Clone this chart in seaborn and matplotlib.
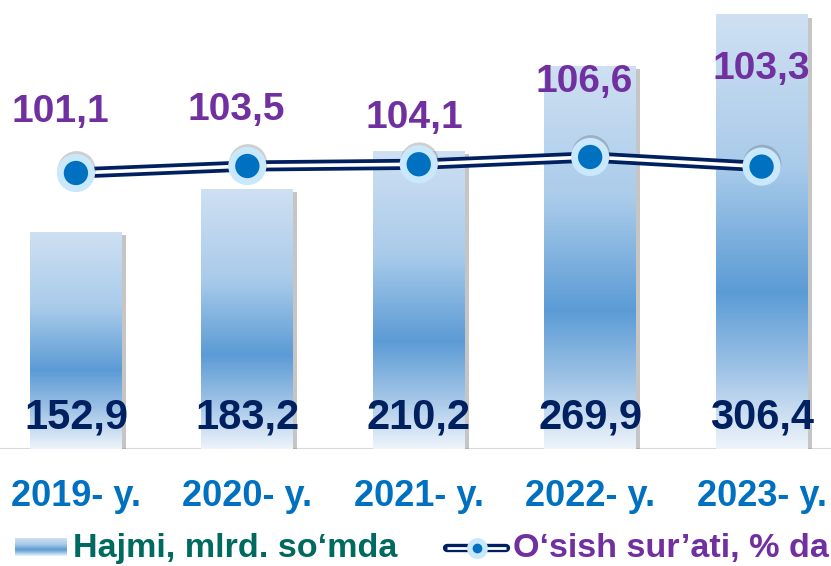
import numpy as np
import matplotlib
matplotlib.use("Agg")
import matplotlib.pyplot as plt
import seaborn as sns
from matplotlib.colors import LinearSegmentedColormap
from matplotlib.lines import Line2D
import matplotlib.patheffects as pe

# ---------------- data ----------------
years = ["2019- y.", "2020- y.", "2021- y.", "2022- y.", "2023- y."]
volume = [152.9, 183.2, 210.2, 269.9, 306.4]
growth = [101.1, 103.5, 104.1, 106.6, 103.3]
volume_name = "Hajmi, mlrd. so\u2018mda"
growth_name = "O\u2018sish sur\u2019ati, % da"

# ---------------- style ----------------
sns.set_theme(style="white")
plt.rcParams["font.family"] = ["Liberation Sans", "DejaVu Sans"]
plt.rcParams["font.weight"] = "bold"

NAVY = "#002060"
BLUE = "#0070c0"
PURPLE = "#7030a0"
TEAL = "#006a60"
LIGHT = "#c9e8fb"

bar_cmap = LinearSegmentedColormap.from_list(
    "bar", [(0.0, "#cfe0f2"), (0.35, "#a9cbea"), (0.64, "#5b9bd5"),
            (0.82, "#9fc3e6"), (1.0, "#eef4fb")])

# label offsets (points) of the growth labels relative to their markers
label_offsets = [(-11.5, 36.7), (-8, 33.1), (-3, 25.9), (-4.3, 46.8), (0, 63.4)]

fig = plt.figure(figsize=(8.31, 5.66), dpi=100, facecolor="white")
ax = fig.add_axes([0, 117 / 566, 1, 449 / 566])
ax.set_facecolor("none")

sns.barplot(x=years, y=volume, ax=ax, width=0.535, color="#5b9bd5",
            saturation=1, edgecolor="none", linewidth=0)

grad = np.linspace(0, 1, 256).reshape(-1, 1)
for p in ax.patches:
    x0, y0 = p.get_x(), p.get_y()
    w, h = p.get_width(), p.get_height()
    p.set_facecolor("none")
    p.set_path_effects([pe.SimplePatchShadow(offset=(3, -2.5), shadow_rgbFace="#7f7f7f",
                                             alpha=0.45), pe.Normal()])
    im = ax.imshow(grad, cmap=bar_cmap, extent=(x0, x0 + w, y0, y0 + h),
                   origin="upper", aspect="auto", zorder=p.get_zorder() + 0.1)
    im.set_clip_path(p)

ax.axhline(0, color="#d9d9d9", lw=1.5, zorder=0.5)
ax.set_ylim(0, 316.3)
ax.set_xlim(-0.443, 4.405)
ax.set_xticks([])
ax.set_yticks([])
ax.set_xlabel("")
ax.set_ylabel("")
for s in ax.spines.values():
    s.set_visible(False)

# bar value labels and category labels
for i, (yr, v) in enumerate(zip(years, volume)):
    ax.text(i, 14.1, f"{v:.1f}".replace(".", ","), ha="center", va="baseline",
            fontsize=30, fontweight="bold", color=NAVY, zorder=5)
    ax.text(i, -57 / 1.4197, yr, ha="center", va="baseline", fontsize=26,
            fontweight="bold", color=BLUE, clip_on=False)

# growth line on secondary axis
ax2 = ax.twinx()
ax2.set_facecolor("none")
sns.lineplot(x=years, y=growth, ax=ax2, color=NAVY, lw=8, sort=False, legend=False,
             solid_capstyle="butt", zorder=3)
sns.lineplot(x=years, y=growth, ax=ax2, color="white", lw=2.6, sort=False, legend=False,
             zorder=3.1)
outer = sns.scatterplot(x=years, y=growth, ax=ax2, s=27.5 ** 2, color=LIGHT,
                        edgecolor="none", legend=False, zorder=4)
ax2.collections[-1].set_path_effects([
    pe.SimplePatchShadow(offset=(0.5, 2), shadow_rgbFace="#606060", alpha=0.3), pe.Normal()])
sns.scatterplot(x=years, y=growth, ax=ax2, s=17.5 ** 2, color=BLUE, edgecolor="none",
                legend=False, zorder=4.1)
ax2.set_ylim(6.25, 160.55)
ax2.set_xlim(-0.443, 4.405)
ax2.set_yticks([])
ax2.set_xlabel("")
ax2.set_ylabel("")
for s in ax2.spines.values():
    s.set_visible(False)

for i, (yr, g) in enumerate(zip(years, growth)):
    dx, dy = label_offsets[i]
    ax2.annotate(f"{g:.1f}".replace(".", ","), xy=(yr, g), xytext=(dx, dy),
                 textcoords="offset points", ha="center", va="baseline",
                 fontsize=28, fontweight="bold", color=PURPLE, zorder=6)

# ---------------- legend (manual) ----------------
W, H = 831, 566
sw = fig.add_axes([15 / W, (H - 556) / H, 52 / W, 18 / H])
sw.imshow(grad, cmap=bar_cmap, aspect="auto")
sw.axis("off")
fig.text(73 / W, (H - 557) / H, volume_name, ha="left", va="baseline", fontsize=24.6,
         fontweight="bold", color=TEAL)

ly = (H - 548) / H
fig.add_artist(Line2D([447 / W, 506 / W], [ly, ly], color=NAVY, lw=6,
                      solid_capstyle="round", transform=fig.transFigure))
fig.add_artist(Line2D([447 / W, 506 / W], [ly, ly], color="white", lw=2,
                      solid_capstyle="butt", transform=fig.transFigure))
fig.add_artist(Line2D([477 / W], [ly], marker="o", ms=15, color=LIGHT, mec="none",
                      transform=fig.transFigure))
fig.add_artist(Line2D([477 / W], [ly], marker="o", ms=7, color=BLUE, mec="none",
                      transform=fig.transFigure))
fig.text(513 / W, (H - 557) / H, growth_name, ha="left", va="baseline", fontsize=24.6,
         fontweight="bold", color=PURPLE)

fig.savefig("out.png", dpi=100, facecolor="white")
